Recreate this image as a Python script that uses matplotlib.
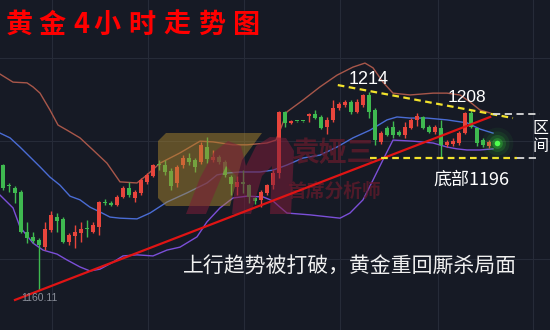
import matplotlib
matplotlib.use("Agg")
import matplotlib.pyplot as plt
from matplotlib.patches import Polygon
from matplotlib.transforms import Affine2D

# ---- 4-hour gold candles (price) ----
opens = [1194.1, 1188.6, 1187.8, 1186.7, 1175.8, 1174.5, 1173.7, 1171.7, 1176.4, 1179.9,
         1179.4, 1173.1, 1174.7, 1175.6, 1176.9, 1175.8, 1177.2, 1184.0, 1183.7, 1183.2,
         1185.4, 1187.8, 1185.1, 1186.5, 1189.5, 1191.1, 1194.2, 1194.1, 1192.4, 1189.2,
         1194.1, 1196.0, 1195.5, 1194.9, 1199.0, 1195.5, 1196.3, 1194.9, 1190.8, 1188.1,
         1189.2, 1188.6, 1185.1, 1184.6, 1186.5, 1188.6, 1191.9, 1208.6, 1205.6, 1206.1,
         1206.1, 1207.6, 1208.0, 1207.2, 1204.5, 1206.4, 1209.6, 1210.5, 1211.3, 1208.6,
         1210.5, 1213.2, 1209.1, 1200.4, 1204.2, 1204.5, 1203.1, 1202.3, 1204.2, 1206.4,
         1207.2, 1204.5, 1203.1, 1204.2, 1199.6, 1199.9, 1200.1, 1202.8, 1208.3, 1204.2,
         1200.9, 1199.3]
highs = [1194.5, 1189.2, 1188.4, 1187.3, 1178.6, 1175.8, 1174.2, 1178.6, 1181.6, 1181.0,
         1179.9, 1175.6, 1177.7, 1178.6, 1179.1, 1178.6, 1184.3, 1184.8, 1184.3, 1185.9,
         1188.4, 1189.5, 1187.3, 1190.5, 1192.0, 1194.5, 1195.5, 1195.5, 1193.3, 1194.1,
         1196.8, 1197.4, 1196.0, 1200.4, 1201.7, 1198.2, 1196.8, 1195.5, 1191.4, 1191.1,
         1192.7, 1189.0, 1185.4, 1187.3, 1189.0, 1192.7, 1208.8, 1208.8, 1206.4, 1206.2,
         1206.2, 1208.3, 1209.0, 1207.7, 1207.2, 1211.8, 1211.3, 1211.8, 1211.8, 1212.0,
         1213.5, 1214.0, 1209.6, 1203.3, 1204.7, 1206.1, 1203.6, 1205.8, 1206.9, 1208.3,
         1207.5, 1205.0, 1205.0, 1206.4, 1201.0, 1201.5, 1203.3, 1208.6, 1209.1, 1204.2,
         1201.5, 1200.9]
lows = [1187.3, 1186.7, 1183.7, 1175.6, 1172.8, 1172.8, 1160.11, 1170.9, 1175.8, 1175.8,
        1172.8, 1172.3, 1171.5, 1173.1, 1174.5, 1175.6, 1175.0, 1183.2, 1182.9, 1182.9,
        1185.1, 1185.4, 1184.0, 1186.0, 1189.0, 1190.8, 1192.7, 1191.4, 1187.3, 1188.1,
        1193.3, 1194.1, 1192.2, 1194.4, 1194.7, 1195.0, 1194.4, 1190.8, 1185.9, 1185.9,
        1186.5, 1183.7, 1183.5, 1182.7, 1186.0, 1187.5, 1190.5, 1204.4, 1205.3, 1205.9,
        1205.9, 1205.8, 1206.7, 1204.0, 1202.5, 1205.8, 1209.1, 1210.0, 1208.0, 1208.3,
        1210.0, 1207.0, 1199.6, 1199.9, 1201.9, 1201.5, 1201.9, 1201.5, 1203.9, 1204.7,
        1203.9, 1202.8, 1202.5, 1196.2, 1199.0, 1199.4, 1199.6, 1202.5, 1204.2, 1199.3,
        1199.0, 1198.8]
closes = [1187.8, 1188.3, 1186.5, 1175.8, 1174.2, 1173.4, 1172.3, 1176.7, 1180.5, 1178.8,
          1173.1, 1175.0, 1175.8, 1176.7, 1176.7, 1177.7, 1184.0, 1183.7, 1183.2, 1185.4,
          1187.8, 1185.9, 1186.7, 1190.0, 1191.4, 1194.1, 1194.0, 1192.2, 1188.4, 1193.6,
          1196.0, 1194.9, 1193.6, 1199.6, 1195.7, 1196.3, 1194.9, 1191.4, 1188.9, 1189.5,
          1189.0, 1185.4, 1184.3, 1186.7, 1188.6, 1191.9, 1208.6, 1205.6, 1206.1, 1206.0,
          1206.0, 1207.8, 1207.0, 1204.2, 1206.4, 1209.6, 1210.7, 1211.3, 1208.6, 1211.3,
          1213.2, 1208.6, 1200.9, 1202.8, 1202.3, 1202.3, 1202.3, 1204.5, 1206.4, 1207.5,
          1204.2, 1203.1, 1204.5, 1199.6, 1200.4, 1200.7, 1202.8, 1208.3, 1204.5, 1200.1,
          1199.6, 1200.4]
last_idx, last_price = 82.3, 1200.1

# ---- Bollinger bands (bar index, price) ----
upper_idx = [-0.5, 1.67, 4, 5, 6.17, 7.83, 9.17, 10.67, 12.83, 15, 17.33, 19.5, 22.33, 24,
             26.17, 29.5, 32.83, 35, 38.33, 40.67, 44, 45.5, 46.33, 47.33, 50, 52.83, 55.67,
             58.33, 60.33, 61.67, 63.33, 65, 67.83, 71.67, 74, 76.17, 77.83, 79.5, 81.17]
upper_val = [1218.9, 1216.7, 1216.5, 1215.4, 1213.7, 1209.1, 1205.0, 1203.6, 1201.5, 1198.2,
             1194.6, 1189.5, 1189.2, 1191.4, 1194.6, 1197.4, 1200.6, 1200.4, 1199.6, 1199.6,
             1200.1, 1200.9, 1204.2, 1208.6, 1211.8, 1215.4, 1218.6, 1220.8, 1221.9, 1220.6,
             1216.7, 1213.7, 1213.2, 1213.7, 1213.7, 1213.2, 1211.3, 1209.1, 1208.3]
mid_idx = [-0.5, 1.17, 2.83, 4.5, 6.17, 7.83, 9.5, 11.17, 12.83, 14.5, 16.17, 17.83, 19.5,
           22.33, 24.5, 27.33, 30.67, 34, 35.67, 37.33, 39.5, 42.83, 45, 47.33, 50, 52.83,
           55.67, 58.33, 61.17, 64, 65.67, 67.83, 70.67, 74, 77.33, 79.5, 81.67]
mid_val = [1202.8, 1201.5, 1199.0, 1196.3, 1193.6, 1190.8, 1188.6, 1185.6, 1184.6, 1182.6,
           1181.3, 1179.9, 1179.6, 1179.4, 1181.0, 1184.0, 1186.5, 1189.2, 1191.4, 1191.9,
           1192.2, 1192.2, 1192.7, 1194.1, 1196.0, 1196.8, 1199.0, 1201.5, 1203.6, 1206.4,
           1207.2, 1206.9, 1206.9, 1206.4, 1205.6, 1203.9, 1202.8]
lower_idx = [-0.5, 1.67, 2.83, 5, 6.67, 9, 10.67, 12.83, 14.5, 16.17, 18.33, 20, 22.33, 25,
             27.33, 29.5, 32.33, 34, 36.17, 38.33, 40.67, 43.33, 45, 46.17, 47.33, 51.17,
             56.17, 57.83, 60, 61.67, 63.33, 65, 68.33, 71.67, 74, 75.67, 77.33, 79.5, 81.67]
lower_val = [1185.9, 1182.4, 1177.2, 1172.8, 1170.9, 1169.8, 1168.2, 1166.3, 1165.2, 1165.7,
             1167.6, 1169.3, 1169.6, 1169.3, 1170.9, 1171.7, 1174.5, 1178.6, 1182.4, 1185.1,
             1185.6, 1185.4, 1184.3, 1182.6, 1181.0, 1180.5, 1179.6, 1181.0, 1184.6, 1190.0,
             1195.5, 1200.9, 1200.6, 1200.1, 1199.0, 1198.5, 1198.2, 1198.2, 1198.5]

# ---- drawn levels / trend lines ----
peak_high = 1214.0
range_top = 1208.0
range_bottom = 1196.0
swing_low = 1160.11
trend_idx, trend_val = [2.0, 81.2], [1157.3, 1207.2]
resist_idx, resist_val = [55.8, 85.0], [1215.9, 1206.9]
support_idx = [61.2, 85.7]
box_top_idx = [81.7, 89.5]
box_bottom_idx = [85.7, 89.5]
grid_prices = [1223.3, 1200.6, 1168.5]
grid_bars = [8.2, 24.2, 40.2, 56.2, 72.5, 88.3]

BG = "#161a25"
UP, DOWN = "#e8453c", "#3fb950"
CJK = ["Noto Sans CJK SC", "DejaVu Sans"]

fig = plt.figure(figsize=(5.5, 3.3), dpi=100)
fig.patch.set_facecolor(BG)
ax = fig.add_axes([0, 0, 1, 1])
ax.set_facecolor(BG)
ax.set_xlim(-0.5, 91.17)
ax.set_ylim(1149.1, 1239.1)
ax.axis("off")

# pixel-space transform for decorations (origin top-left)
px = Affine2D().scale(1 / 550, -1 / 330).translate(0, 1) + fig.transFigure

for g in grid_prices:
    ax.axhline(g, color="#262b38", lw=0.8, zorder=0)
for g in grid_bars:
    ax.axvline(g, color="#262b38", lw=0.8, zorder=0)

# bands
ax.plot(upper_idx, upper_val, color="#a8574a", lw=1.0, zorder=1)
ax.plot(mid_idx, mid_val, color="#4a6cd4", lw=1.0, zorder=1)
ax.plot(lower_idx, lower_val, color="#7b4fd8", lw=1.0, zorder=1)

# candles
for i, (o, h, l, c) in enumerate(zip(opens, highs, lows, closes)):
    col = UP if c >= o else DOWN
    ax.vlines(i, l, h, color=col, lw=1.0, zorder=2)
    ax.bar(i, max(abs(c - o), 0.35), bottom=min(o, c), width=0.68, color=col,
           linewidth=0, zorder=2)

# watermark logo + text
gold = Polygon([(158, 141), (166, 133), (262, 133), (242, 160), (230, 206), (166, 206), (158, 198)],
               closed=True, transform=px, facecolor="#b08a2e", alpha=0.48, lw=0, zorder=3)
ax.add_patch(gold)
mshape = Polygon([(186, 214), (200, 178), (214, 152), (228, 141), (241, 146), (246, 166),
                  (256, 146), (270, 137), (286, 138), (294, 151), (291, 214), (270, 214),
                  (272, 166), (262, 176), (251, 214), (232, 214), (236, 176), (226, 166),
                  (206, 214)], closed=True, transform=px, facecolor="#7e1c38", alpha=0.55,
                 lw=0, zorder=3)
ax.add_patch(mshape)
ax.text(333, 153, "袁娅三", transform=px, family=CJK, fontsize=20, fontweight="bold",
        color="#6a1a2c", alpha=0.7, ha="center", va="center", zorder=3)
ax.text(334, 191, "首席分析师", transform=px, family=CJK, fontsize=13.5, fontweight="bold",
        color="#6a1a2c", alpha=0.7, ha="center", va="center", zorder=3)

# trend / range lines
ax.plot(trend_idx, trend_val, color="#e01414", lw=1.6, zorder=4)
ax.plot(resist_idx, resist_val, color="#f2e22c", lw=1.6, ls=(0, (3, 2)), zorder=4)
ax.plot(support_idx, [range_bottom] * 2, color="#f2e22c", lw=1.6, ls=(0, (3, 2)), zorder=4)
ax.plot(box_top_idx, [range_top] * 2, color="#d8d8d8", lw=1.3, ls=(0, (4, 2.5)), zorder=4)
ax.plot(box_bottom_idx, [range_bottom] * 2, color="#d8d8d8", lw=1.3, ls=(0, (4, 2.5)), zorder=4)

# glowing last price
for s, a in [(520, 0.05), (300, 0.08), (150, 0.14), (60, 0.25)]:
    ax.scatter([last_idx], [last_price], s=s, color="#3cff3c", alpha=a, lw=0, zorder=5)
ax.scatter([last_idx], [last_price], s=16, color="#50ff50", lw=0, zorder=6)

# labels
ax.text(61, peak_high + 1.2, f"{peak_high:.0f}", family="Liberation Sans", fontsize=13,
        color="white", ha="center", va="bottom", zorder=6)
ax.text(77.3, range_top + 2.5, f"{range_top:.0f}", family="Liberation Sans", fontsize=12.5,
        color="white", ha="center", va="bottom", zorder=6)
ax.text(78, range_bottom - 6, f"底部{range_bottom:.0f}", family=CJK, fontsize=13,
        color="white", ha="center", va="center", zorder=6)
ax.text(6, swing_low - 2.3, f"{swing_low:.2f}", family="Liberation Sans", fontsize=7.5,
        color="#8a8e99", ha="center", va="center", zorder=6)
ax.text(540, 128, "区", transform=px, family=CJK, fontsize=11.5, color="white",
        ha="center", va="center", zorder=6)
ax.text(540, 147, "间", transform=px, family=CJK, fontsize=11.5, color="white",
        ha="center", va="center", zorder=6)
ax.text(350, 267, "上行趋势被打破，黄金重回厮杀局面", transform=px, family=CJK,
        fontsize=15, color="#f0f0f0", ha="center", va="center", zorder=6)

title = "黄金4小时走势图"
title_x = [19, 52, 81, 107, 142, 177, 212, 247]
for ch, xc in zip(title, title_x):
    ax.text(xc, 25, ch, transform=px, family=CJK, fontsize=19.5, fontweight="bold",
            color="#ff0000", ha="center", va="center", zorder=6)

fig.savefig("out.png", dpi=100, facecolor=BG)
